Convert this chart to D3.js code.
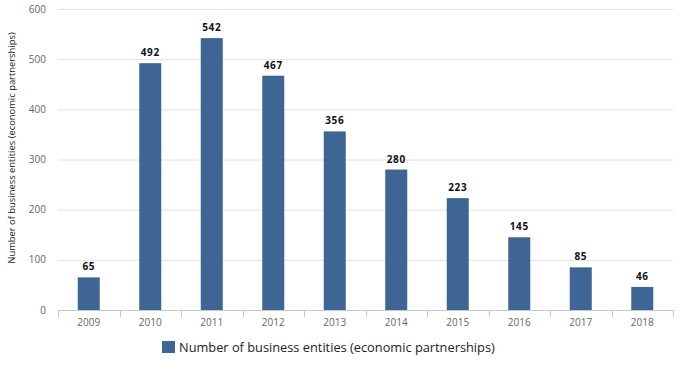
<!DOCTYPE html>
<html><head><meta charset="utf-8">
<script src="https://cdn.jsdelivr.net/npm/d3@7"></script>
<style>body{margin:0;background:#fff;} text{font-family:"Open Sans",sans-serif;}</style>
</head><body><svg id="c" width="685" height="365"></svg>
<script>
const categories = ["2009","2010","2011","2012","2013","2014","2015","2016","2017","2018"];
const values = [65,492,542,467,356,280,223,145,85,46];
const yTicks = [0,100,200,300,400,500,600];
const seriesName = "Number of business entities (economic partnerships)";
const axisTitle = "Number of business entities (economic partnerships)";

const svg = d3.select("#c");
const m = {l:58, r:673, t:9, b:310};
const x = d3.scaleBand().domain(categories).range([m.l, m.r]);
const y = d3.scaleLinear().domain([0,600]).range([m.b, m.t]);
const barW = 22;

svg.append("g").selectAll("line").data(yTicks.filter(d=>d>0)).join("line")
  .attr("x1", m.l).attr("x2", m.r).attr("y1", d=>y(d)+0.5).attr("y2", d=>y(d)+0.5)
  .attr("stroke", "#e0e0e0");

svg.append("g").selectAll("text").data(yTicks).join("text")
  .attr("x", 46).attr("y", d=>y(d)+3.5).attr("text-anchor","end")
  .attr("font-size", 10).attr("fill", "#666").text(d=>d);

svg.append("g").selectAll("rect").data(values).join("rect")
  .attr("x", (d,i)=>x(categories[i]) + x.bandwidth()/2 - barW/2)
  .attr("width", barW).attr("y", d=>y(d)).attr("height", d=>y(0)-y(d))
  .attr("fill", "#3e6594");

svg.append("g").selectAll("text").data(values).join("text")
  .attr("x", (d,i)=>x(categories[i]) + x.bandwidth()/2)
  .attr("y", d=>y(d)-7).attr("text-anchor","middle").attr("letter-spacing", 0.6)
  .attr("font-size", 10).attr("font-weight","bold").attr("fill","#111").text(d=>d);

const ax = svg.append("g").attr("transform", `translate(0,${m.b})`)
  .call(d3.axisBottom(x).tickSize(0).tickPadding(0));
ax.select(".domain").remove();
ax.selectAll("text").remove();
ax.append("line").attr("x1", m.l).attr("x2", m.r).attr("y1", 0.5).attr("y2", 0.5).attr("stroke","#c0c8d4");
ax.selectAll(".tk").data([...categories.map(c=>x(c)), m.r]).join("line").attr("class","tk")
  .attr("x1", d=>Math.round(d)+0.5).attr("x2", d=>Math.round(d)+0.5).attr("y1",0).attr("y2",7).attr("stroke","#c0c8d4");
ax.selectAll(".lb").data(categories).join("text").attr("class","lb")
  .attr("x", d=>x(d)+x.bandwidth()/2).attr("y", 16).attr("text-anchor","middle")
  .attr("font-size", 10).attr("fill","#666").text(d=>d);

svg.append("text").attr("transform", "translate(15,148) rotate(-90)")
  .attr("text-anchor","middle").attr("font-size", 9.4).attr("fill","#222").text(axisTitle);

svg.append("rect").attr("x",162).attr("y",341).attr("width",13).attr("height",12).attr("fill","#3e6594");
svg.append("text").attr("x",179).attr("y",352).attr("font-size",12.8).attr("fill","#222").text(seriesName);
</script></body></html>
